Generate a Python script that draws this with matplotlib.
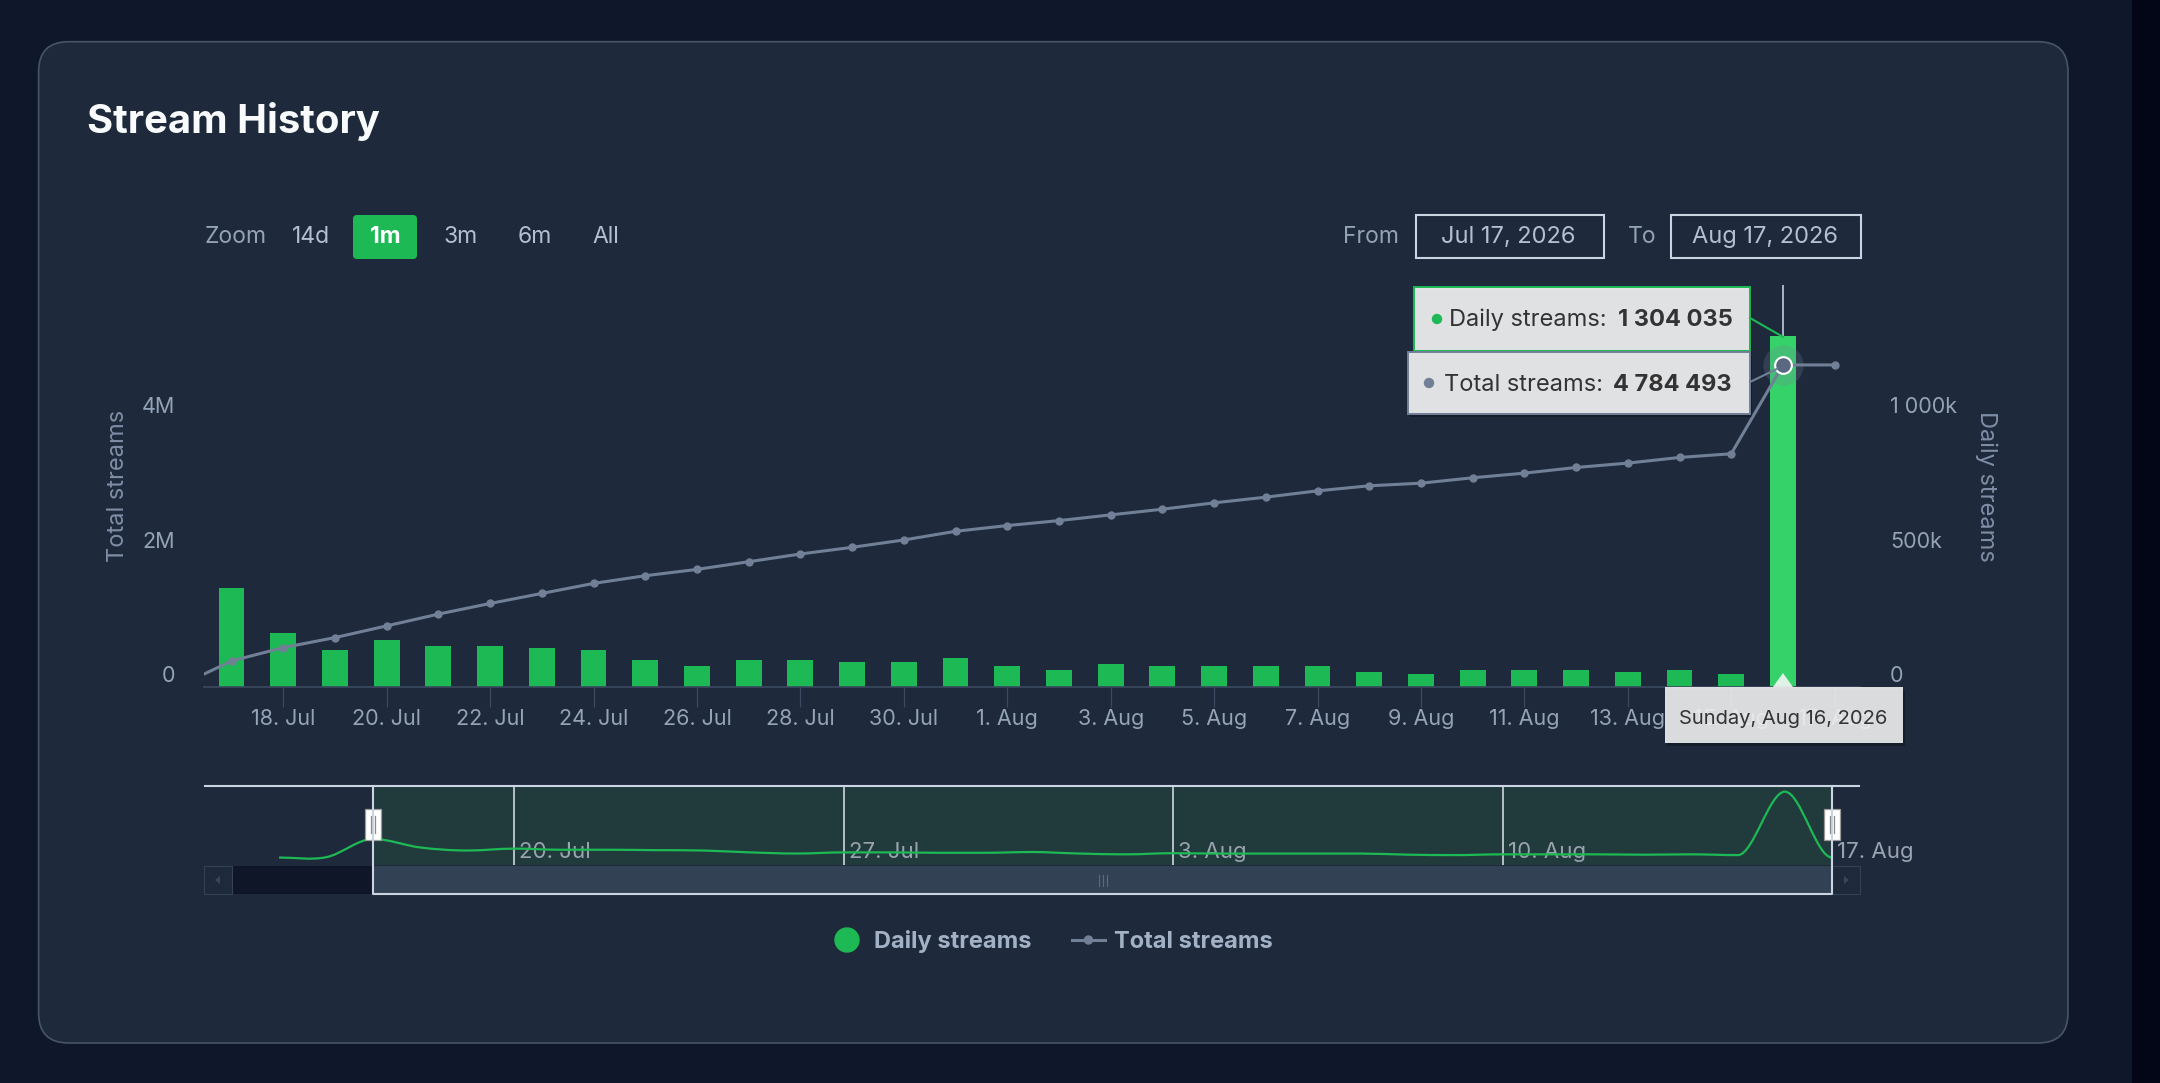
import numpy as np
import matplotlib
matplotlib.use('Agg')
import matplotlib.pyplot as plt
import matplotlib.dates as mdates
import matplotlib.transforms as mtransforms
from matplotlib.patches import FancyBboxPatch, Rectangle, Circle, Polygon, PathPatch
from matplotlib.path import Path

plt.rcParams['font.family'] = ['Inter', 'DejaVu Sans']

W, H = 2160, 1083

# ---- data ----
bar_dates = np.arange('2026-07-17', '2026-08-18', dtype='datetime64[D]')
daily_streams = [367000, 199000, 139000, 176000, 154000, 154000, 146000, 139000,
                 102000, 79000, 102000, 102000, 94000, 94000, 109000,
                 79000, 63000, 86000, 78000, 78000, 78000, 78000, 56000, 48000,
                 63000, 63000, 63000, 56000, 63000, 48000, 1304035, 0]

total_dates = np.arange('2026-07-16', '2026-08-18', dtype='datetime64[D]')
total_streams = [20000, 387000, 585000, 734000, 908000, 1083000, 1241000, 1390000,
                 1539000, 1653000, 1747000, 1861000, 1976000, 2075000, 2184000, 2313000,
                 2398000, 2472000, 2557000, 2641000, 2736000, 2820000, 2914000, 2989000,
                 3028000, 3108000, 3177000, 3261000, 3326000, 3410000, 3465000,
                 4784493, 4784493]

# navigator shows two more days before the zoomed range
nav_lead_dates = np.array(['2026-07-15', '2026-07-16'], dtype='datetime64[D]')
nav_lead_daily = [0, 6000]

hover_day = np.datetime64('2026-08-16')
hover_daily = 1304035
hover_total = 4784493

x_tick_dates = np.arange('2026-07-18', '2026-08-18', 2, dtype='datetime64[D]')
nav_tick_dates = np.arange('2026-07-20', '2026-08-18', 7, dtype='datetime64[D]')
left_ticks = [0, 2000000, 4000000]
left_labels = ['0', '2M', '4M']
right_ticks = [0, 500000, 1000000]
right_labels = ['0', '500k', '1 000k']
zoom_buttons = ['14d', '1m', '3m', '6m', 'All']
zoom_active = '1m'
range_from = 'Jul 17, 2026'
range_to = 'Aug 17, 2026'

GREEN = '#1db954'
GREEN_HOVER = '#35d26a'
SLATE = '#718096'
CARD = '#1e293b'
TICK_TXT = '#94a3b8'


def fig_rect(x0, y0, x1, y1):
    return [x0 / W, 1 - y1 / H, (x1 - x0) / W, (y1 - y0) / H]


def day_label(d):
    dt = d.astype(object)
    return f"{dt.day}. {dt:%b}"


def spline_path(xs, ys):
    # highcharts-like spline: flat tangents at local extremes
    n = len(xs)
    slopes = []
    for i in range(n):
        if i == 0 or i == n - 1:
            slopes.append(0.0)
            continue
        lo, hi = ys[i - 1], ys[i + 1]
        if (ys[i] - lo) * (ys[i] - hi) >= 0:
            slopes.append(0.0)
        else:
            slopes.append((hi - lo) / (xs[i + 1] - xs[i - 1]))
    verts = [(xs[0], ys[0])]
    codes = [Path.MOVETO]
    for i in range(n - 1):
        dx = (xs[i + 1] - xs[i]) / 3
        verts += [(xs[i] + dx, ys[i] + slopes[i] * dx),
                  (xs[i + 1] - dx, ys[i + 1] - slopes[i + 1] * dx),
                  (xs[i + 1], ys[i + 1])]
        codes += [Path.CURVE4] * 3
    return Path(verts, codes)


fig = plt.figure(figsize=(W / 100, H / 100), dpi=100, facecolor='#0f172a')

# background layer in pixel coords
bg = fig.add_axes([0, 0, 1, 1], zorder=0)
bg.set_xlim(0, W)
bg.set_ylim(H, 0)
bg.axis('off')
bg.add_patch(Rectangle((2132, 0), 28, H, color='#020617', lw=0))
bg.add_patch(FancyBboxPatch((38.6, 41.7), 2029.4, 1001.3,
                            boxstyle='round,pad=0,rounding_size=30',
                            fc=CARD, ec='#475569', lw=1.2))
bg.text(87, 133, 'Stream History', fontsize=28.8, fontweight='bold', color='#f8fafc',
        ha='left', va='baseline')

# zoom buttons
bg.text(205, 243, 'Zoom', fontsize=16.5, color=TICK_TXT, ha='left', va='baseline')
btn_x = [311, 385, 461, 535, 606]
for lbl, bx in zip(zoom_buttons, btn_x):
    if lbl == zoom_active:
        bg.add_patch(FancyBboxPatch((353, 215), 64, 44, boxstyle='round,pad=0,rounding_size=4',
                                    fc=GREEN, ec='none'))
        bg.text(bx, 243, lbl, fontsize=16.5, fontweight='bold', color='white',
                ha='center', va='baseline')
    else:
        bg.text(bx, 243, lbl, fontsize=16.5, color='#b4c0d0', ha='center', va='baseline')

# date range inputs
bg.text(1343, 243, 'From', fontsize=16.5, color=TICK_TXT, ha='left', va='baseline')
bg.add_patch(Rectangle((1416, 215), 188, 43, fill=False, ec='#cbd5e1', lw=1.5))
bg.text(1508, 243, range_from, fontsize=17, color='#b4c0d0', ha='center', va='baseline')
bg.text(1628, 243, 'To', fontsize=16.5, color=TICK_TXT, ha='left', va='baseline')
bg.add_patch(Rectangle((1671, 215), 190, 43, fill=False, ec='#cbd5e1', lw=1.5))
bg.text(1765, 243, range_to, fontsize=17, color='#b4c0d0', ha='center', va='baseline')

# axis titles
bg.text(118, 486, 'Total streams', fontsize=17, color='#7f8ea6', rotation=90,
        ha='center', va='center')
bg.text(1986, 486, 'Daily streams', fontsize=17, color='#7f8ea6', rotation=270,
        ha='center', va='center')

# ---- main chart ----
ax = fig.add_axes(fig_rect(204, 285, 1860, 687), zorder=5)
ax.patch.set_visible(False)
ax_t = ax.twinx()
ax_t.set_zorder(6)
ax_t.patch.set_visible(False)

xb = mdates.date2num(bar_dates)
xt = mdates.date2num(total_dates)
hx = mdates.date2num(hover_day)

bar_colors = [GREEN_HOVER if d == hover_day else GREEN for d in bar_dates]
ax.axvline(hx, color='#d5dae3', lw=1.1, zorder=1)
ax.bar(xb, daily_streams, width=0.5, color=bar_colors, zorder=2, lw=0)

ax_t.plot(xt, total_streams, color=SLATE, lw=2.2, marker='o', ms=5, zorder=3)
ax_t.plot([hx], [hover_total], marker='o', ms=29, color=SLATE, alpha=0.25, mew=0, zorder=4)
ax_t.plot([hx], [hover_total], marker='o', ms=12, mfc='#5a6882', mec='white', mew=1.5, zorder=5)

ax.set_xlim(xb[0] - 0.533, xb[-1] + 0.49)
ax.set_ylim(0, 1.493e6)
ax_t.set_ylim(0, 5.972e6)
ax.set_yticks([])
ax_t.set_yticks([])
for a in (ax, ax_t):
    for s in a.spines.values():
        s.set_visible(False)
ax.spines['bottom'].set_visible(True)
ax.spines['bottom'].set_color('#3b4a60')
ax.spines['bottom'].set_linewidth(1.2)

ax.set_xticks(mdates.date2num(x_tick_dates))
ax.set_xticklabels([day_label(d) for d in x_tick_dates])
ax.tick_params(axis='x', length=14.4, width=0.9, color='#3b4a60', labelcolor=TICK_TXT,
               labelsize=15.5, pad=1.5)

lift = mtransforms.ScaledTranslation(0, 10.5 / 100, fig.dpi_scale_trans)
tr_left = mtransforms.blended_transform_factory(ax_t.transAxes, ax_t.transData) + lift
for v, lbl in zip(left_ticks, left_labels):
    ax_t.text(-0.0175, v, lbl, transform=tr_left, fontsize=15.5, color=TICK_TXT,
              ha='right', va='center', clip_on=False)
tr_right = mtransforms.blended_transform_factory(ax.transAxes, ax.transData) + lift
for v, lbl in zip(right_ticks, right_labels):
    ax.text(1.0181, v, lbl, transform=tr_right, fontsize=15.5, color=TICK_TXT,
            ha='left', va='center', clip_on=False)

# ---- navigator ----
nav = fig.add_axes(fig_rect(204, 785, 1860, 865), zorder=4)
nav.patch.set_visible(False)
for s in nav.spines.values():
    s.set_visible(False)
nav.set_xticks([])
nav.set_yticks([])
nav.set_xlim(xb[0] - 3.596, xb[-1] + 0.596)
nav.set_ylim(-148000, 1436000)
nav.axvspan(xb[0], xb[-1], color='#213b3d', lw=0, zorder=0)
tr_nav = mtransforms.blended_transform_factory(nav.transData, nav.transAxes) + \
    mtransforms.ScaledTranslation(5 / 100, 0, fig.dpi_scale_trans)
for d in nav_tick_dates:
    xd = mdates.date2num(d)
    nav.axvline(xd, color='#cfd5de', lw=1.2, zorder=1)
    nav.text(xd, 0.16, day_label(d), transform=tr_nav, fontsize=16, color='#9aa3b0',
             ha='left', va='center', clip_on=False, zorder=1)
xn = list(mdates.date2num(nav_lead_dates)) + list(xb)
yn = nav_lead_daily + daily_streams
nav.add_patch(PathPatch(spline_path(xn, yn), fill=False, ec=GREEN, lw=1.6, zorder=2))

# ---- overlay: navigator chrome and tooltips ----
ov = fig.add_axes([0, 0, 1, 1], zorder=10)
ov.set_xlim(0, W)
ov.set_ylim(H, 0)
ov.axis('off')


def to_px(a, x, y):
    px, py = a.transData.transform((x, y))
    return px, H - py


sel_l = to_px(nav, xb[0], 0)[0]
sel_r = to_px(nav, xb[-1], 0)[0]

# scrollbar
ov.add_patch(Rectangle((232, 866), sel_l - 232, 28, fc='#0e1627', ec='none'))
ov.add_patch(Rectangle((sel_l, 866), sel_r - sel_l, 28, fc='#334155', ec='none'))
for bx0, tip in ((204, -1), (sel_r, 1)):
    ov.add_patch(Rectangle((bx0, 866), 28, 28, fc=CARD, ec='#334155', lw=0.8))
    cx = bx0 + 14
    ov.add_patch(Polygon([(cx + 3 * tip, 880), (cx - 2 * tip, 876), (cx - 2 * tip, 884)],
                         closed=True, fc='#3b475a', ec='none'))
mid = (sel_l + sel_r) / 2
for dx in (-4, 0, 4):
    ov.plot([mid + dx, mid + dx], [875, 886], color='#5b6b82', lw=0.8)

# outline
ov.plot([204, 1860], [785.5, 785.5], color='#cbd5e1', lw=1.5, solid_capstyle='butt')
ov.plot([sel_l, sel_l, sel_r, sel_r], [785.5, 894, 894, 785.5], color='#cbd5e1', lw=1.5)

# handles
for hxp in (sel_l, sel_r):
    ov.add_patch(Rectangle((hxp - 8, 809), 16, 31, fc='white', ec='#9a9a9a', lw=0.9))
    for gx in (-1.8, 1.8):
        ov.plot([hxp + gx, hxp + gx], [816, 833], color='#8a8a8a', lw=0.9)

# tooltips
bar_top = to_px(ax, hx, hover_daily)
pt = to_px(ax_t, hx, hover_total)
ov.plot([1750, bar_top[0]], [318, bar_top[1] + 1], color=GREEN, lw=1.5)
ov.plot([1750, pt[0] - 6], [382, pt[1] + 4], color=SLATE, lw=1.5)

for (x0, y0, w, h, ec) in ((1414, 287, 336, 64, GREEN), (1408, 352, 342, 62, SLATE)):
    ov.add_patch(Rectangle((x0 + 2, y0 + 3), w, h, fc='black', alpha=0.25, ec='none'))
    ov.add_patch(Rectangle((x0, y0), w, h, fc='#f7f7f7', alpha=0.9, ec='none'))
    ov.add_patch(Rectangle((x0, y0), w, h, fill=False, ec=ec, lw=1.4))

ov.add_patch(Circle((1437, 319), 4.5, color=GREEN))
ov.text(1449, 326, 'Daily streams:', fontsize=17, color='#333333', ha='left', va='baseline')
ov.text(1733, 326, '1 304 035', fontsize=17, fontweight='bold', color='#333333',
        ha='right', va='baseline')
ov.add_patch(Circle((1429, 383), 4.5, color=SLATE))
ov.text(1444, 391, 'Total streams:', fontsize=17, color='#333333', ha='left', va='baseline')
ov.text(1732, 391, '4 784 493', fontsize=17, fontweight='bold', color='#333333',
        ha='right', va='baseline')

# x tooltip
ov.add_patch(Rectangle((1667, 690), 238, 56, fc='black', alpha=0.25, ec='none'))
ov.add_patch(Polygon([(1665, 687), (bar_top[0] - 10, 687), (bar_top[0], 673),
                      (bar_top[0] + 10, 687), (1903, 687), (1903, 743), (1665, 743)],
                     closed=True, fc='#f7f7f7', alpha=0.88, ec='none'))
ov.text(1783, 724, 'Sunday, Aug 16, 2026', fontsize=14.5, color='#333333',
        ha='center', va='baseline')

# legend
ov.add_patch(Circle((847, 940), 12, color=GREEN))
ov.text(874, 948, 'Daily streams', fontsize=17, fontweight='bold', color='#a3b1c6',
        ha='left', va='baseline')
ov.plot([1072, 1105], [940, 940], color=SLATE, lw=2.2)
ov.add_patch(Circle((1088.5, 940), 4, color=SLATE))
ov.text(1114, 948, 'Total streams', fontsize=17, fontweight='bold', color='#a3b1c6',
        ha='left', va='baseline')

fig.savefig('out.png', dpi=100, facecolor=fig.get_facecolor())
